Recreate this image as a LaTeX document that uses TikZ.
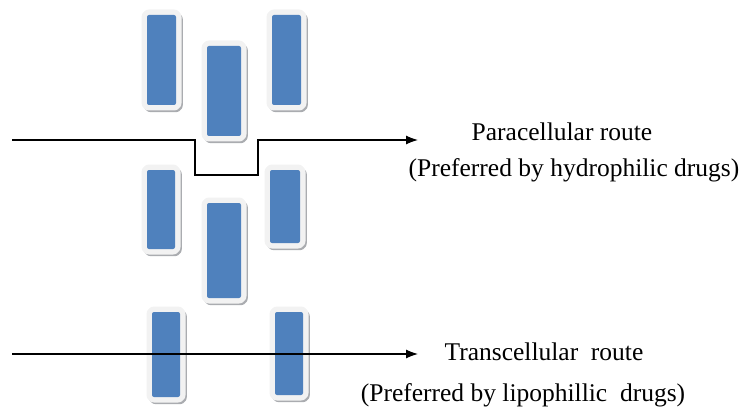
\documentclass[tikz,border=0pt]{standalone}
\usepackage{fontspec}
\setmainfont{Liberation Serif}
\usetikzlibrary{arrows.meta}
\definecolor{cellblue}{RGB}{79,129,189}
\definecolor{cellrim}{RGB}{242,242,242}
\definecolor{cellshade}{RGB}{170,172,176}
\begin{document}
\begin{tikzpicture}[x=1pt,y=-1pt]
\tikzstyle{cell} = [rectangle, rounded corners=2pt, inner sep=0pt, fill=cellblue,
preaction={draw=cellshade, line width=10pt, line join=round, transform canvas={shift={(1.8pt,-2.2pt)}}},
preaction={draw=cellrim, line width=11pt, line join=round}]
\tikzstyle{label} = [font=\fontsize{25.5}{30}\selectfont, inner sep=0pt]
\tikzstyle{arrow} = [line width=1.1pt, -{Latex[length=12pt,width=9pt]}]

\useasboundingbox (0,0) rectangle (744,409);

%cells
\node (CA) [cell, minimum width=29pt, minimum height=90pt] at (161.5,60) {};
\node (CB) [cell, minimum width=34pt, minimum height=90pt] at (224,91) {};
\node (CC) [cell, minimum width=29pt, minimum height=90pt] at (286.5,60) {};

\node (CD) [cell, minimum width=28pt, minimum height=79pt] at (161,209.5) {};
\node (CE) [cell, minimum width=34pt, minimum height=95pt] at (224,250.5) {};
\node (CF) [cell, minimum width=30pt, minimum height=73pt] at (285,206.5) {};

\node (CG) [cell, minimum width=28pt, minimum height=85pt] at (166,354.5) {};
\node (CH) [cell, minimum width=28pt, minimum height=83pt] at (289,353.5) {};

%labels
\node (PR) [label] at (562,132) {Paracellular route};
\node (PH) [label] at (574,170) {(Preferred by hydrophilic drugs)};
\node (TR) [label] at (544,352) {Transcellular\ \ route};
\node (TL) [label] at (523,395) {(Preferred by lipophillic\ \ drugs)};

%route ends
\coordinate (PA) at (12,140);
\coordinate (PB) at (418,140);
\coordinate (TA) at (12,354);
\coordinate (TB) at (418,354);

%routes
\draw [arrow] (PA) -- ++(183,0) -- ++(0,35) -- ++(63,0) -- ++(0,-35) -- (PB);
\draw [arrow] (TA) -- (TB);
\end{tikzpicture}
\end{document}
